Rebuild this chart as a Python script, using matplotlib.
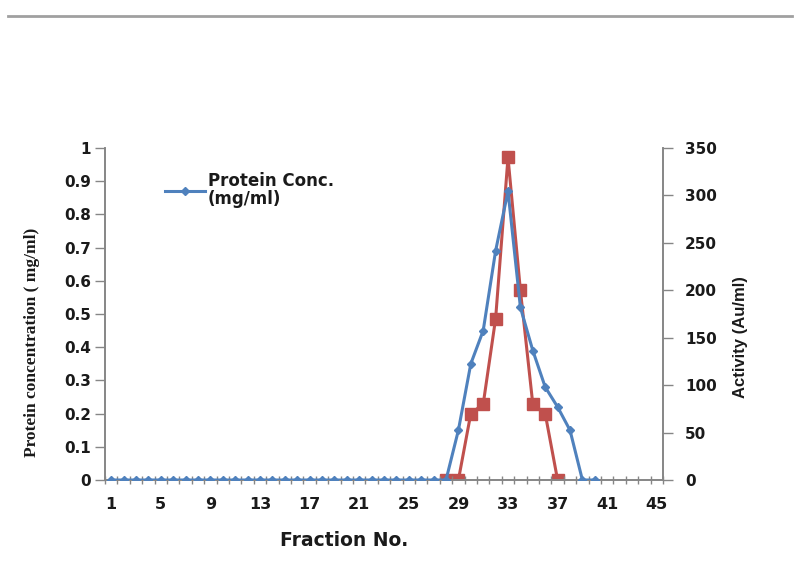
import matplotlib
matplotlib.use("Agg")
import matplotlib.pyplot as plt
import numpy as np
from matplotlib.lines import Line2D

# ---- data ----
fractions = list(range(1, 41))
protein = [0]*28 + [0.15, 0.35, 0.45, 0.69, 0.87, 0.52, 0.39, 0.28, 0.22, 0.15, 0, 0]
activity_fractions = list(range(28, 38))
activity = [0, 0, 70, 80, 170, 340, 200, 80, 70, 0]
xtick_labels = list(range(1, 46, 4))
left_ticks = [0, 0.1, 0.2, 0.3, 0.4, 0.5, 0.6, 0.7, 0.8, 0.9, 1]
left_tick_labels = ["0", "0.1", "0.2", "0.3", "0.4", "0.5", "0.6", "0.7", "0.8", "0.9", "1"]
right_ticks = [0, 50, 100, 150, 200, 250, 300, 350]

blue = "#4F81BD"
red = "#C0504D"
gray = "#868686"
txt = "#1a1a1a"

fig = plt.figure(figsize=(7.99, 5.69), dpi=100)
ax = fig.add_axes([105/799, 1-480/569, 558/799, 332/569])
ax2 = ax.twinx()

ax.plot(fractions, protein, color=blue, lw=2.2, marker="D", ms=4.5,
        mfc=blue, mec=blue, label="Protein Conc.\n(mg/ml)", zorder=3)
ax2.plot(activity_fractions, activity, color=red, lw=2.2, marker="s", ms=8,
         mfc=red, mec=red, zorder=2)
ax.set_zorder(ax2.get_zorder()+1)
ax.patch.set_visible(False)

ax.set_xlim(0.5, 45.5)
ax.set_ylim(0, 1)
ax2.set_ylim(0, 350)

ax.set_xticks(xtick_labels)
ax.set_xticklabels([str(v) for v in xtick_labels], fontsize=11.5,
                   fontweight="bold", family="DejaVu Sans", color=txt)
ax.set_xticks(np.arange(0.5, 46, 1), minor=True)
ax.tick_params(axis="x", which="major", length=0, pad=12)
ax.tick_params(axis="x", which="minor", length=6, direction="inout",
               color=gray, width=1)

ax.set_yticks(left_ticks)
ax.set_yticklabels(left_tick_labels, fontsize=11, fontweight="bold",
                   family="DejaVu Sans", color=txt)
ax.tick_params(axis="y", length=7, color=gray, width=1, pad=3)

ax2.set_yticks(right_ticks)
ax2.set_yticklabels([str(v) for v in right_ticks], fontsize=11,
                    fontweight="bold", family="DejaVu Sans", color=txt)
ax2.tick_params(axis="y", length=7, color=gray, width=1, pad=9)

for a in (ax, ax2):
    a.spines["top"].set_visible(False)
    for s in ("left", "right", "bottom"):
        a.spines[s].set_color(gray)
        a.spines[s].set_linewidth(1.2)

fig.text(32/799, 1-342/569, "Protein concentration ( mg/ml)", rotation=90,
         ha="center", va="center", fontsize=12.5, fontweight="bold",
         family="Liberation Serif", color=txt)
fig.text(741/799, 1-337/569, "Activity (Au/ml)", rotation=90,
         ha="center", va="center", fontsize=12, fontweight="bold",
         family="Liberation Sans", color=txt)
fig.text(344/799, 1-541/569, "Fraction No.", ha="center", va="center",
         fontsize=13.5, fontweight="bold", family="DejaVu Sans", color=txt)

leg = ax.legend(loc="upper left", bbox_to_anchor=(165/799, 1-172/569),
                bbox_transform=fig.transFigure, frameon=False,
                prop={"family": "DejaVu Sans", "weight": "bold", "size": 12},
                handlelength=2.4, handletextpad=0.15, borderpad=0,
                borderaxespad=0, labelspacing=0.2)
for t in leg.get_texts():
    t.set_color(txt)
    t.set_linespacing(1.0)

# decorative top line
fig.add_artist(Line2D([8/799, 792/799], [1-16/569, 1-16/569],
                      transform=fig.transFigure, color="#a0a0a0", lw=2))

fig.savefig("out.png", dpi=100)
